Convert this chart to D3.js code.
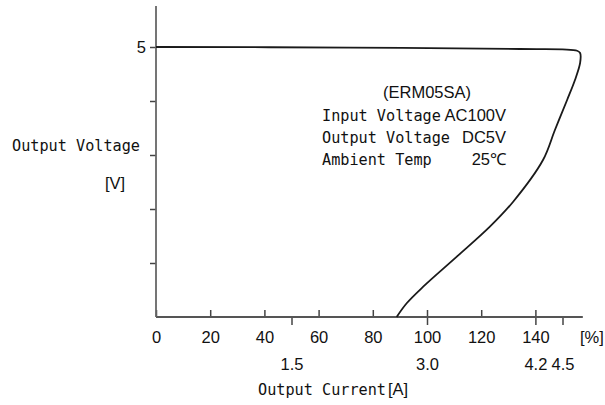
<!DOCTYPE html>
<html>
<head>
<meta charset="utf-8">
<script src="https://cdn.jsdelivr.net/npm/d3@7"></script>
<style>
  body { margin: 0; background: #fff; }
  .mono { font-family: "DejaVu Sans Mono", "Liberation Mono", monospace; font-size: 15.2px; fill: #111; }
  .num { font-family: "Liberation Sans Narrow", "Liberation Sans", sans-serif; font-size: 16.5px; fill: #111; }
</style>
</head>
<body>
<div id="chart"></div>
<script>
// output current vs output voltage (drooping characteristic)
const pctTicks = [0, 20, 40, 60, 80, 100, 120, 140];
const currentTicks = [1.5, 3.0, 4.2, 4.5];
const voltTicks = [1, 2, 3, 4, 5];
const voltLabels = ["", "", "", "", "5"];

const curvePct  = [0, 71.6, 134.3, 155.4, 156.5, 156.5, 154.6, 151.7, 147.2, 142.8, 131.8, 123.2, 111.0, 98.6, 92.5, 88.8];
const curveVolt = [5.0, 4.99, 4.963, 4.931, 4.889, 4.704, 4.389, 4.019, 3.463, 2.907, 2.135, 1.672, 1.117, 0.561, 0.254, 0];

const infoLeft  = ["Input Voltage", "Output Voltage", "Ambient Temp"];
const infoRight = ["AC100V", "DC5V", "25\u2103"];

const width = 605, height = 405;

const svg = d3.select("#chart").append("svg")
  .attr("width", width)
  .attr("height", height);

const x = d3.scaleLinear().domain([0, 100]).range([156, 427]);
const xA = d3.scaleLinear().domain([0, 3]).range([x(0), x(100)]); // 3.0A = 100%
const y = d3.scaleLinear().domain([0, 5]).range([317, 47]);

// percent axis (ticks point up)
const gx = svg.append("g")
  .attr("transform", "translate(0," + y(0) + ")")
  .call(d3.axisBottom(x).tickValues(pctTicks).tickSizeInner(-7).tickSizeOuter(0).tickPadding(14));
gx.select(".domain").remove();
gx.selectAll(".tick line").attr("stroke", "#444").attr("stroke-width", 1.5);
gx.selectAll(".tick text").attr("class", "num").attr("fill", "#111");

// current axis (ticks point down)
const ga = svg.append("g")
  .attr("transform", "translate(0," + y(0) + ")")
  .call(d3.axisBottom(xA).tickValues(currentTicks).tickSizeInner(8).tickSizeOuter(0).tickPadding(33)
    .tickFormat(d3.format(".1f")));
ga.select(".domain").remove();
ga.selectAll(".tick line").attr("stroke", "#444").attr("stroke-width", 1.5);
ga.selectAll(".tick text").attr("class", "num").attr("fill", "#111");

// voltage axis
const gy = svg.append("g")
  .attr("transform", "translate(" + x(0) + ",0)")
  .call(d3.axisLeft(y).tickValues(voltTicks).tickSizeInner(6).tickSizeOuter(0).tickPadding(4)
    .tickFormat((d, i) => voltLabels[i]));
gy.select(".domain").remove();
gy.selectAll(".tick line").attr("stroke", "#444").attr("stroke-width", 1.5);
gy.selectAll(".tick text").attr("class", "num").attr("fill", "#111");

// axis lines
svg.append("line")
  .attr("x1", x(0)).attr("x2", x(157.5))
  .attr("y1", y(0)).attr("y2", y(0))
  .attr("stroke", "#555").attr("stroke-width", 1.8);
svg.append("line")
  .attr("x1", x(0)).attr("x2", x(0))
  .attr("y1", y(0)).attr("y2", y(5.76))
  .attr("stroke", "#666").attr("stroke-width", 1.8);

// the curve
const pts = curvePct.map((p, i) => [p, curveVolt[i]]);
svg.append("path")
  .datum(pts)
  .attr("fill", "none")
  .attr("stroke", "#1a1a1a")
  .attr("stroke-width", 1.8)
  .attr("d", d3.line()
    .x(d => x(d[0]))
    .y(d => y(d[1]))
    .curve(d3.curveCatmullRom.alpha(0.5)));

// axis titles
svg.append("text").attr("class", "mono").attr("x", 12).attr("y", 151).text("Output Voltage");
svg.append("text").attr("class", "num").attr("x", 105).attr("y", 189).text("[V]");
svg.append("text").attr("class", "num").attr("x", 580).attr("y", 343).text("[%]");
const ct = svg.append("text").attr("x", 258).attr("y", 395);
ct.append("tspan").attr("class", "mono").text("Output Current");
ct.append("tspan").attr("class", "num").attr("dx", 2).text("[A]");

// info block
svg.append("text").attr("class", "num").attr("x", 427).attr("y", 98)
  .attr("text-anchor", "middle").text("(ERM05SA)");
infoLeft.forEach((t, i) => {
  svg.append("text").attr("class", "mono").attr("x", 322).attr("y", 121 + i * 22).text(t);
  svg.append("text").attr("class", "num").attr("x", 506).attr("y", 121 + i * 22)
    .attr("text-anchor", "end").text(infoRight[i]);
});
</script>
</body>
</html>
